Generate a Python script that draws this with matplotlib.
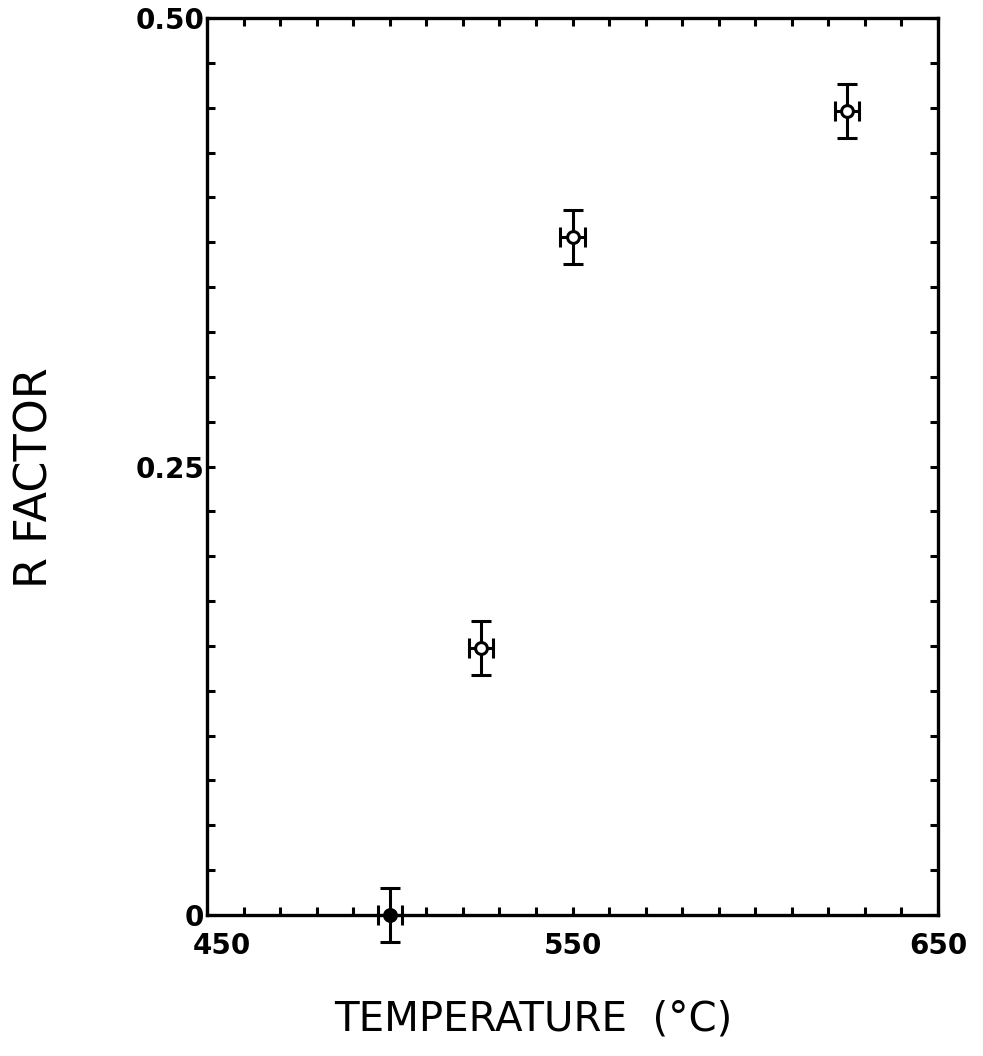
import numpy as np
import matplotlib
matplotlib.use("Agg")
import matplotlib.pyplot as plt
from matplotlib.transforms import ScaledTranslation

# data
temp = [500, 525, 550, 625]          # deg C
rfac = [0.0, 0.149, 0.378, 0.448]
temp_err = [3.3, 3.3, 3.3, 3.3]
rfac_err = [0.015, 0.015, 0.015, 0.015]
filled = [True, False, False, False]

xticks = list(range(450, 651, 10))
xtick_labels = {450: "450", 550: "550", 650: "650"}
yticks = [i * 0.025 for i in range(21)]
ytick_labels = {0: "0", 10: "0.25", 20: "0.50"}

fig = plt.figure(figsize=(9.83, 10.56), dpi=100)
ax = fig.add_axes([207/983, 141/1056, 731/983, 897/1056])

for x, y, xe, ye, f in zip(temp, rfac, temp_err, rfac_err, filled):
    ax.errorbar(x, y, xerr=xe, yerr=ye, fmt='o', ms=8.5, mew=2.2,
                mfc='black' if f else 'white', mec='black', ecolor='black',
                elinewidth=2.2, capsize=7, capthick=2.2, clip_on=False, zorder=3)

ax.set_xlim(450, 650)
ax.set_ylim(0, 0.5)
ax.set_xticks(xticks)
ax.set_xticklabels([xtick_labels.get(t, "") for t in xticks])
ax.set_yticks(yticks)
ax.set_yticklabels([ytick_labels.get(i, "") for i in range(len(yticks))])

for s in ax.spines.values():
    s.set_linewidth(2.4)
ax.tick_params(direction='in', length=6, width=2.2, top=True, right=True,
               labelsize=20)
ax.tick_params(axis='x', pad=12)
ax.tick_params(axis='y', pad=2)
for lab in ax.get_xticklabels() + ax.get_yticklabels():
    lab.set_fontweight('bold')
# the 450 label sits a bit right of its tick in the original
first = ax.get_xticklabels()[0]
first.set_transform(first.get_transform() + ScaledTranslation(0.15, 0, fig.dpi_scale_trans))

fig.text(533/983, 1 - 1020/1056, "TEMPERATURE  (°C)", ha='center', va='center',
         fontsize=29)
fig.text(35/983, 1 - 478/1056, "R FACTOR", ha='center', va='center',
         rotation=90, fontsize=32)

fig.savefig("out.png", dpi=100)
